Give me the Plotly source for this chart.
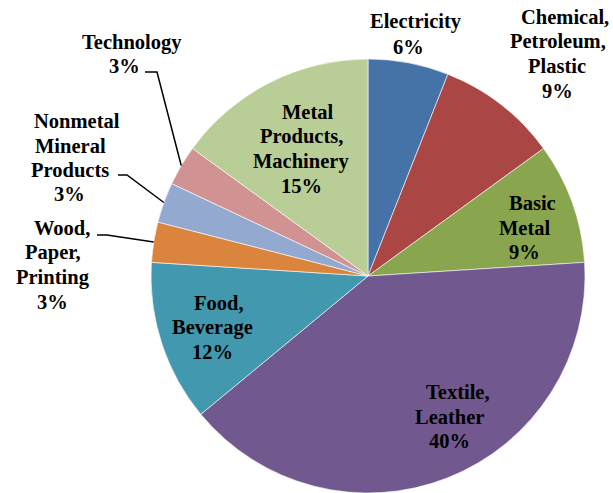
import math
import plotly.graph_objects as go

W, H = 613, 493

categories = ["Electricity", "Chemical, Petroleum, Plastic", "Basic Metal", "Textile, Leather",
              "Food, Beverage", "Wood, Paper, Printing", "Nonmetal Mineral Products",
              "Technology", "Metal Products, Machinery"]
values = [6, 9, 9, 40, 12, 3, 3, 3, 15]
colors = ["#4572A7", "#AA4643", "#89A54E", "#71588F", "#4198AF",
          "#DB843D", "#93A9CF", "#D19392", "#B9CD96"]

# label text lines (category lines + percent)
label_lines = [
    ["Electricity"],
    ["Chemical,", "Petroleum,", "Plastic"],
    ["Basic", "Metal"],
    ["Textile,", "Leather"],
    ["Food,", "Beverage"],
    ["Wood,", "Paper,", "Printing"],
    ["Nonmetal", "Mineral", "Products"],
    ["Technology"],
    ["Metal", "Products,", "Machinery"],
]
# label placement (pixel) : x center per line, y of first line
label_x = [
    [416, 408], [565, 558, 557, 557], [532, 525, 524], [458, 449, 449],
    [219, 212, 212], [62, 53, 53, 52], [77, 70, 70, 69], [132, 124],
    [308, 301, 301, 301],
]
label_y0 = [22, 17, 203, 392, 303, 228, 121, 42, 112]
line_gap = 24.5

# leader lines: index -> (label-end point, elbow point) in pixels
leaders = {
    7: ((145, 72), (157, 72)),
    6: ((118, 175), (127, 175)),
    5: ((97, 235), (107, 235)),
}

CX, CY, R = 368, 276, 217
FONT = "Liberation Serif"


def px2paper(px, py):
    return px / W, 1 - py / H


fig = go.Figure(go.Pie(
    labels=categories, values=values, sort=False, direction="clockwise", rotation=0,
    marker=dict(colors=colors, line=dict(color="white", width=0.6)),
    textinfo="none", hoverinfo="label+percent", showlegend=False,
    domain=dict(x=[(CX - R) / W, (CX + R) / W], y=[(H - CY - R) / H, (H - CY + R) / H]),
))

total = sum(values)
annotations = []
for i, lines in enumerate(label_lines):
    pct = f"{round(values[i] / total * 100)}%"
    all_lines = lines + [pct]
    for j, t in enumerate(all_lines):
        x, y = px2paper(label_x[i][j], label_y0[i] + j * line_gap)
        annotations.append(dict(
            x=x, y=y, xref="paper", yref="paper", text=f"<b>{t}</b>", showarrow=False,
            xanchor="center", yanchor="middle",
            font=dict(family=FONT, size=20.5, color="black"),
        ))

shapes = []
cum = 0
mids = []
for v in values:
    mids.append((cum + v / 2) / total * 2 * math.pi)
    cum += v
for i, (p0, p1) in leaders.items():
    th = mids[i]
    pe = (CX + R * math.sin(th), CY - R * math.cos(th))
    pts = [px2paper(*p0), px2paper(*p1), px2paper(*pe)]
    path = "M {} {} L {} {} L {} {}".format(pts[0][0], pts[0][1], pts[1][0], pts[1][1],
                                            pts[2][0], pts[2][1])
    shapes.append(dict(type="path", xref="paper", yref="paper", path=path,
                       line=dict(color="black", width=1.5)))

fig.update_layout(
    width=W, height=H, margin=dict(l=0, r=0, t=0, b=0),
    paper_bgcolor="white", plot_bgcolor="white",
    annotations=annotations, shapes=shapes,
)

fig.write_html("out.html", config={"displayModeBar": False},
               post_script="document.body.style.margin='0';document.body.style.overflow='hidden';")
